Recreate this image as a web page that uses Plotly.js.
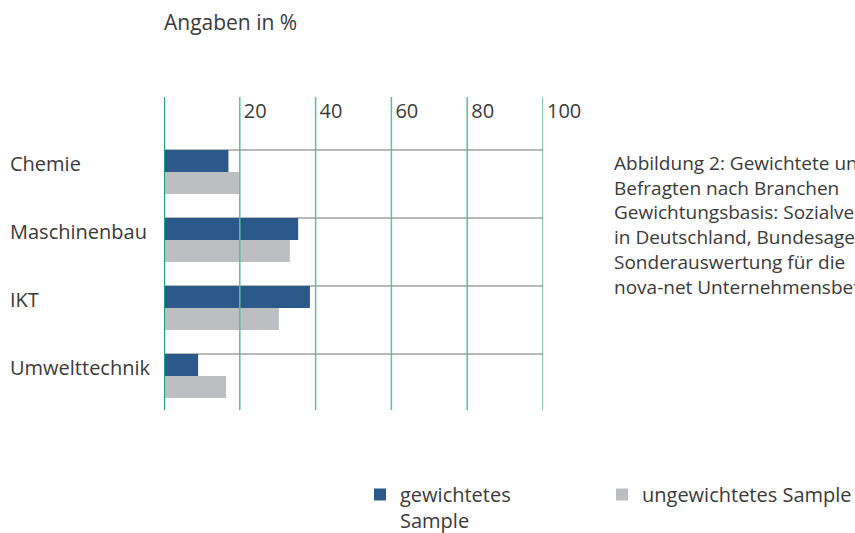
<!DOCTYPE html>
<html><head><meta charset="utf-8">
<script src="https://cdn.plot.ly/plotly-3.0.1.min.js"></script>
<style>html,body{margin:0;padding:0;background:#fff}#chart{width:855px;height:533px}</style>
</head><body><div id="chart"></div>
<script>
const categories = ['Chemie', 'Maschinenbau', 'IKT', 'Umwelttechnik'];
const weighted = [17, 35.4, 38.5, 9];
const unweighted = [20, 33.2, 30.3, 16.4];
const seriesNames = ['gewichtetes<br>Sample', 'ungewichtetes Sample'];
const xTicks = [20, 40, 60, 80, 100];
const gridX = [0, 20, 40, 60, 80, 100];
const chartTitle = 'Angaben in %';
const captionLines = [
  'Abbildung 2: Gewichtete und ungewichtete Verteilung der',
  'Befragten nach Branchen',
  'Gewichtungsbasis: Sozialversicherungspflichtig Beschäftigte',
  'in Deutschland, Bundesagentur für Arbeit,',
  'Sonderauswertung für die',
  'nova-net Unternehmensbefragung'
];

const FONT = '"Open Sans", "Noto Sans", sans-serif';
const FS = 20;
const TXT = '#3a3a3a';
const BLUE = '#2b5a8a';
const GRAY = '#bdbec1';
const barW = 22 / 68;
const W = 855, H = 533;

const traces = [
  {type: 'bar', orientation: 'h', name: seriesNames[0], y: categories, x: weighted,
   marker: {color: BLUE}, width: barW, offset: 0, hoverinfo: 'x', legend: 'legend'},
  {type: 'bar', orientation: 'h', name: seriesNames[1], y: categories, x: unweighted,
   marker: {color: GRAY}, width: barW, offset: barW, hoverinfo: 'x', legend: 'legend2'}
];

const shapes = gridX.map(v => ({
  type: 'line', xref: 'x', yref: 'paper', x0: v, x1: v, y0: 0, y1: 1,
  layer: 'above', line: {color: v === 0 ? '#17a37e' : '#56bf9f', width: v === 0 ? 2 : 1.5}
}));

const annotations = categories.map((c, i) => ({
  xref: 'paper', yref: 'y', x: (8 - 164) / 379, y: i, yshift: -14,
  xanchor: 'left', yanchor: 'middle', text: c, showarrow: false,
  font: {family: FONT, size: FS, color: TXT}
}));
annotations.push({
  xref: 'paper', yref: 'paper', x: (612 - 164) / 379, y: (410 - 148) / 313,
  xanchor: 'left', yanchor: 'top', align: 'left', showarrow: false,
  text: captionLines.join('<br>'), font: {family: FONT, size: 19, color: TXT}
});

const legendBase = {orientation: 'h', xref: 'container', yref: 'container', xanchor: 'left',
  y: 1 - 475 / H, yanchor: 'top', valign: 'top', bgcolor: 'rgba(0,0,0,0)',
  font: {family: FONT, size: FS, color: TXT}};

const layout = {
  width: W, height: H,
  margin: {l: 164, r: 312, t: 97, b: 123},
  paper_bgcolor: '#fff', plot_bgcolor: '#fff',
  font: {family: FONT, size: FS, color: TXT},
  title: {text: chartTitle, xref: 'paper', x: 0, xanchor: 'left', yref: 'container', y: 1 - 23 / H, yanchor: 'middle',
          font: {family: FONT, size: 21, color: TXT}},
  barmode: 'overlay',
  showlegend: true,
  legend: Object.assign({}, legendBase, {x: 360 / W}),
  legend2: Object.assign({}, legendBase, {x: 602 / W}),
  xaxis: {range: [0, 100], side: 'top', tickvals: xTicks, ticktext: xTicks.map(String),
          showgrid: false, zeroline: false, showline: false, ticks: '',
          ticklabelposition: 'inside right', ticklabeloverflow: 'allow', ticklabelshift: 4, ticklabelstandoff: 1,
          tickfont: {family: FONT, size: FS, color: TXT}, fixedrange: true},
  yaxis: {type: 'category', categoryorder: 'array', categoryarray: categories,
          range: [3.824, -0.779], showgrid: true, gridcolor: '#b9b9b9', gridwidth: 2,
          zeroline: false, showline: false, ticks: '', showticklabels: false, fixedrange: true},
  shapes: shapes,
  annotations: annotations
};

Plotly.newPlot('chart', traces, layout, {displayModeBar: false, staticPlot: true});
</script>
</body></html>
